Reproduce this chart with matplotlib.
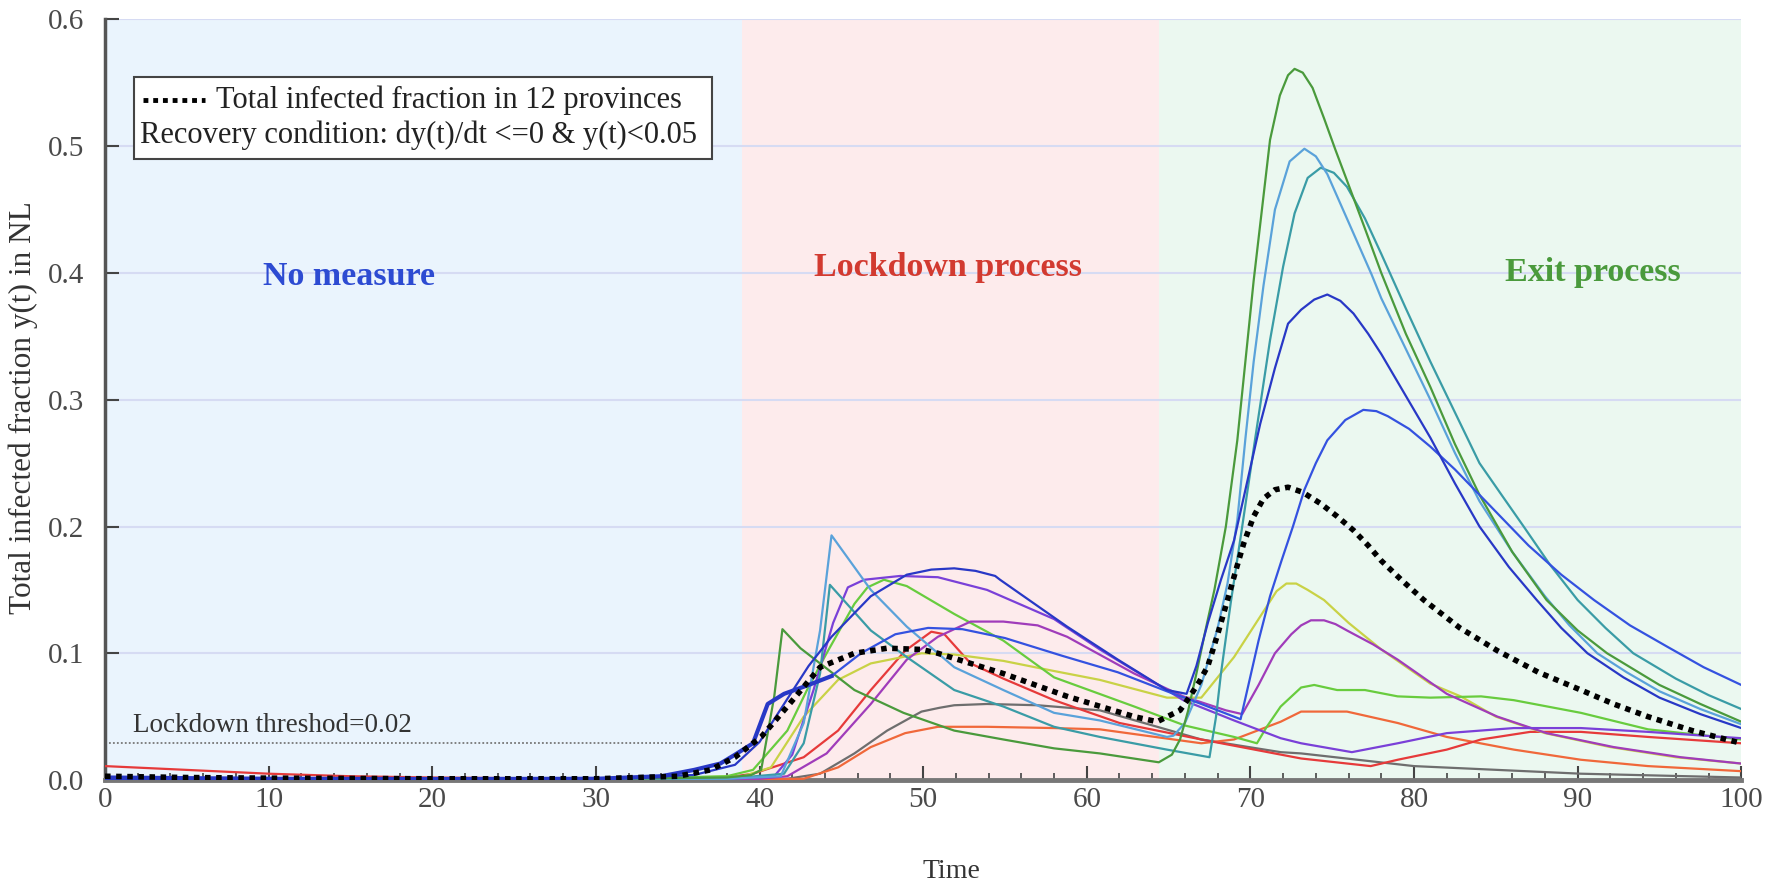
import matplotlib
matplotlib.use("Agg")
import matplotlib.pyplot as plt
from matplotlib.patches import Rectangle
from matplotlib.ticker import MultipleLocator, FormatStrFormatter

# values
phase_edges = [0, 38.9, 64.4, 100]
phase_names = ["No measure", "Lockdown process", "Exit process"]
threshold = 0.029

green_t = [0, 10, 20, 30, 38, 39.5, 40.1, 40.9, 41.4, 42.5, 43.7, 45.8, 48.8, 51.9, 54.9, 58, 60.8, 64.4, 65.2, 65.7, 66.2, 66.7, 67.2, 67.8, 68.5, 69.2, 70.2, 71.2, 71.8, 72.3, 72.7, 73.2, 73.8, 74.5, 75.2, 75.9, 77, 78, 79.5, 81, 82.5, 84, 86, 88.1, 90, 91.8, 95, 97.5, 100]
green_y = [0.002, 0.001, 0.0008, 0.0008, 0.002, 0.004, 0.008, 0.066, 0.119, 0.104, 0.092, 0.071, 0.053, 0.039, 0.032, 0.025, 0.021, 0.014, 0.02, 0.032, 0.055, 0.084, 0.115, 0.15, 0.2, 0.268, 0.394, 0.505, 0.54, 0.556, 0.561, 0.558, 0.546, 0.522, 0.497, 0.473, 0.435, 0.40, 0.352, 0.31, 0.265, 0.225, 0.18, 0.142, 0.118, 0.1, 0.075, 0.06, 0.046]

lblue_t = [0, 10, 20, 30, 38, 41.3, 42.7, 43.7, 44.4, 46.8, 49, 51.9, 54.9, 58, 60.8, 64.9, 65.3, 66, 67, 68, 68.6, 69.2, 69.7, 70.2, 70.8, 71.5, 72.4, 73.3, 74, 74.7, 76, 77.4, 78, 79.5, 81, 82.5, 84, 86, 88, 89.5, 91.2, 93, 95, 97.5, 100]
lblue_y = [0.001, 0.0008, 0.0006, 0.0006, 0.001, 0.003, 0.045, 0.118, 0.193, 0.15, 0.121, 0.089, 0.071, 0.053, 0.047, 0.034, 0.035, 0.045, 0.075, 0.12, 0.155, 0.205, 0.27, 0.33, 0.39, 0.45, 0.488, 0.498, 0.492, 0.478, 0.44, 0.399, 0.38, 0.34, 0.3, 0.258, 0.22, 0.18, 0.145, 0.122, 0.1, 0.085, 0.07, 0.056, 0.044]

teal_t = [0, 10, 20, 30, 38, 41.5, 42.7, 43.7, 44.3, 46.8, 49, 51.9, 54.9, 58, 60.8, 64.9, 67.5, 67.9, 68.2, 68.8, 69.5, 70.3, 71.2, 72, 72.7, 73.5, 74.3, 75.1, 75.9, 77, 78, 79.5, 81, 82.5, 84, 85.4, 86.7, 88.3, 90, 91.7, 93.4, 96, 98, 100]
teal_y = [0.001, 0.0008, 0.0006, 0.0006, 0.001, 0.005, 0.029, 0.084, 0.154, 0.118, 0.097, 0.071, 0.058, 0.042, 0.034, 0.024, 0.018, 0.05, 0.084, 0.14, 0.2, 0.27, 0.347, 0.405, 0.447, 0.475, 0.483, 0.479, 0.468, 0.443, 0.415, 0.372, 0.33, 0.29, 0.25, 0.224, 0.2, 0.17, 0.142, 0.12, 0.1, 0.08, 0.067, 0.056]

blue1_t = [0, 10, 20, 30, 36, 38.5, 40, 41.5, 43, 44.4, 46.8, 49, 50.5, 51.9, 53.2, 54.4, 54.7, 58.8, 61.9, 64.9, 66.1, 66.7, 67.4, 68.2, 69, 69.8, 70.6, 71.5, 72.3, 73.1, 73.9, 74.7, 75.5, 76.3, 77.2, 78, 79.5, 81, 82.5, 84, 85.8, 87.5, 89, 90.6, 92.8, 95, 97.5, 100]
blue1_y = [0.001, 0.0008, 0.0006, 0.0008, 0.004, 0.012, 0.03, 0.06, 0.09, 0.113, 0.145, 0.162, 0.166, 0.167, 0.165, 0.161, 0.158, 0.121, 0.095, 0.071, 0.068, 0.09, 0.124, 0.158, 0.189, 0.235, 0.281, 0.325, 0.36, 0.371, 0.379, 0.383, 0.378, 0.368, 0.352, 0.336, 0.303, 0.27, 0.234, 0.2, 0.168, 0.142, 0.12, 0.1, 0.081, 0.065, 0.052, 0.041]

blue2_t = [0, 10, 20, 30, 34, 36, 37.6, 38.5, 39.6, 40.5, 41.5, 43, 44.4, 46.2, 48.3, 50.3, 52.4, 55, 58.5, 61.9, 64.9, 67, 69.4, 70.5, 71.2, 71.9, 72.6, 73.3, 74, 74.7, 75.8, 76.9, 77.7, 78.4, 79.7, 81, 82.5, 84, 85.5, 87, 89, 91, 93.2, 95.5, 97.7, 100]
blue2_y = [0.002, 0.001, 0.0008, 0.001, 0.003, 0.008, 0.013, 0.02, 0.029, 0.06, 0.068, 0.075, 0.082, 0.1, 0.115, 0.12, 0.119, 0.112, 0.098, 0.085, 0.07, 0.06, 0.048, 0.11, 0.145, 0.173, 0.2, 0.229, 0.25, 0.268, 0.284, 0.292, 0.291, 0.287, 0.277, 0.263, 0.245, 0.225, 0.205, 0.185, 0.162, 0.142, 0.122, 0.105, 0.089, 0.075]

violet_t = [0, 10, 20, 30, 38, 40.9, 42, 43.3, 44.5, 45.4, 46.4, 48.6, 50.9, 53.9, 58, 60.8, 65.9, 69, 71.85, 73.1, 76.2, 79, 82, 86.1, 90.2, 94.3, 100]
violet_y = [0.001, 0.0008, 0.0006, 0.0006, 0.001, 0.003, 0.02, 0.071, 0.124, 0.152, 0.158, 0.161, 0.16, 0.15, 0.127, 0.103, 0.063, 0.047, 0.033, 0.029, 0.022, 0.029, 0.037, 0.041, 0.041, 0.038, 0.033]

magenta_t = [0, 10, 20, 30, 40, 41.7, 44.1, 46.8, 49, 50.9, 52.9, 54.9, 57, 58.8, 62.9, 65.9, 68.5, 69.5, 70.5, 71.5, 72.5, 73.1, 73.7, 74.5, 75.2, 75.9, 77.5, 79, 82, 85.1, 88.1, 92.2, 96.3, 100]
magenta_y = [0.001, 0.0008, 0.0006, 0.0006, 0.001, 0.003, 0.021, 0.06, 0.095, 0.113, 0.125, 0.125, 0.122, 0.113, 0.084, 0.066, 0.055, 0.052, 0.075, 0.1, 0.115, 0.122, 0.126, 0.126, 0.123, 0.118, 0.107, 0.095, 0.068, 0.05, 0.037, 0.026, 0.018, 0.013]

yellow_t = [0, 10, 20, 30, 39, 40.7, 42.7, 44.8, 46.8, 49.9, 51.9, 54.9, 58, 60.8, 64.9, 67, 69, 71, 71.6, 72.2, 72.8, 73.5, 74.5, 76, 78, 81, 82.85, 85, 88, 92, 96, 100]
yellow_y = [0.001, 0.0008, 0.0006, 0.0006, 0.003, 0.01, 0.05, 0.079, 0.092, 0.1, 0.099, 0.094, 0.086, 0.079, 0.065, 0.065, 0.097, 0.137, 0.149, 0.155, 0.155, 0.15, 0.142, 0.124, 0.103, 0.076, 0.066, 0.05, 0.037, 0.026, 0.018, 0.013]

lgreen_t = [0, 10, 20, 30, 38, 39.6, 41.7, 42.9, 44.1, 45.8, 46.6, 47.6, 49, 51.9, 54.9, 58, 62.9, 66, 69, 70.4, 71, 71.85, 73.1, 73.9, 75.3, 77, 79, 81, 84.1, 86.1, 90.2, 94.3, 100]
lgreen_y = [0.001, 0.0008, 0.0006, 0.0006, 0.003, 0.008, 0.039, 0.071, 0.1, 0.139, 0.152, 0.158, 0.153, 0.131, 0.11, 0.081, 0.058, 0.043, 0.034, 0.029, 0.042, 0.058, 0.073, 0.075, 0.071, 0.071, 0.066, 0.065, 0.066, 0.063, 0.053, 0.04, 0.032]

red_t = [0, 5, 10, 15, 20, 30, 38, 39.6, 42.7, 44.8, 46.8, 48.9, 50.5, 51.3, 52.9, 54.9, 58, 62, 67, 73.1, 77.35, 79, 82, 84.1, 87.1, 90.2, 94.3, 100]
red_y = [0.011, 0.008, 0.005, 0.003, 0.002, 0.001, 0.002, 0.005, 0.018, 0.039, 0.071, 0.102, 0.117, 0.115, 0.092, 0.08, 0.063, 0.045, 0.032, 0.017, 0.011, 0.016, 0.024, 0.032, 0.038, 0.038, 0.034, 0.029]

orange_t = [0, 10, 20, 30, 40, 42.7, 44.8, 46.8, 48.9, 50.9, 53.9, 58, 60.8, 67, 69, 71.85, 73.1, 73.9, 75.9, 79, 82, 86.1, 90.2, 94.3, 100]
orange_y = [0.001, 0.0008, 0.0006, 0.0006, 0.0005, 0.001, 0.01, 0.026, 0.037, 0.042, 0.042, 0.041, 0.04, 0.029, 0.032, 0.046, 0.054, 0.054, 0.054, 0.045, 0.034, 0.024, 0.016, 0.011, 0.007]

gray_t = [0, 10, 20, 30, 40, 41.7, 43.7, 45.8, 47.8, 49.9, 51, 51.9, 53.9, 57, 60.8, 67, 71.85, 73.1, 80, 90.2, 100]
gray_y = [0.0005, 0.0005, 0.0005, 0.0005, 0.0005, 0.001, 0.005, 0.021, 0.039, 0.054, 0.057, 0.059, 0.06, 0.059, 0.055, 0.032, 0.022, 0.021, 0.011, 0.005, 0.002]

total_t = [0, 5, 10, 20, 30, 35, 37, 38.5, 40.1, 41.7, 43.7, 45.8, 47.8, 49.9, 50.9, 52.9, 54.9, 58.8, 62.9, 64.3, 65.7, 66.3, 66.9, 67.4, 68, 68.6, 69.1, 69.6, 70.2, 70.8, 71.5, 72.3, 73.2, 74.3, 75.3, 76.3, 77.2, 78, 79.3, 80.6, 82.8, 85.1, 87.6, 90.2, 92.2, 94.3, 97, 100]
total_y = [0.003, 0.002, 0.0015, 0.001, 0.001, 0.003, 0.008, 0.018, 0.034, 0.058, 0.089, 0.1, 0.104, 0.103, 0.1, 0.092, 0.084, 0.066, 0.05, 0.046, 0.055, 0.066, 0.078, 0.09, 0.115, 0.142, 0.165, 0.187, 0.208, 0.222, 0.229, 0.231, 0.227, 0.218, 0.208, 0.197, 0.185, 0.173, 0.157, 0.142, 0.12, 0.102, 0.085, 0.071, 0.06, 0.05, 0.039, 0.029]

provinces = [
    (gray_t, gray_y, "#6e6e6e"),
    (orange_t, orange_y, "#f0683a"),
    (red_t, red_y, "#e63a3a"),
    (yellow_t, yellow_y, "#c9d246"),
    (lgreen_t, lgreen_y, "#68cc3e"),
    (magenta_t, magenta_y, "#a03cba"),
    (violet_t, violet_y, "#7a40d8"),
    (teal_t, teal_y, "#3a9ca6"),
    (lblue_t, lblue_y, "#5aa2da"),
    (green_t, green_y, "#4a9a3c"),
    (blue2_t, blue2_y, "#3452e0"),
    (blue1_t, blue1_y, "#2838c6"),
]

plt.rcParams['font.family'] = ['Liberation Serif', 'DejaVu Serif']

fig = plt.figure(figsize=(17.83, 8.83), dpi=100)
ax = fig.add_axes([0.0589, 0.1166, 0.9177, 0.8614])

# background phases
phase_colors = ["#eaf4fd", "#fdebec", "#ebf8f0"]
for i in range(3):
    ax.axvspan(phase_edges[i], phase_edges[i+1], color=phase_colors[i], lw=0, zorder=0)

for yv in [0.1, 0.2, 0.3, 0.4, 0.5, 0.6]:
    ax.axhline(yv, color="#d6dbf3", lw=1.5, zorder=1)

# lockdown threshold
ax.plot([0, phase_edges[1]], [threshold, threshold], color="#777777", lw=1.3,
        linestyle=(0, (1, 1.2)), zorder=2)
ax.text(1.7, 0.043, "Lockdown threshod=0.02", fontsize=19.5, color="#333333",
        va="center", zorder=3)

for t, y, c in provinces:
    ax.plot(t, y, color=c, lw=1.6, zorder=3)
# thicker blue start
ax.plot(blue2_t[:13], blue2_y[:13], color="#2838c6", lw=3, zorder=3)

ax.plot(total_t, total_y, color="black", lw=4, linestyle=(0, (1, 1)), zorder=4)

# phase labels
ax.text(14.9, 0.397, phase_names[0], color="#2d4bd2", fontsize=24.5, fontweight="bold", ha="center", va="center")
ax.text(51.5, 0.404, phase_names[1], color="#d23a30", fontsize=24.5, fontweight="bold", ha="center", va="center")
ax.text(90.9, 0.40, phase_names[2], color="#4a9a3c", fontsize=24.5, fontweight="bold", ha="center", va="center")

# legend-like box
box = Rectangle((0.018, 0.816), 0.353, 0.108, transform=ax.transAxes, facecolor="white",
                edgecolor="#444444", lw=1.5, zorder=5)
ax.add_patch(box)
ax.plot([0.0235, 0.0614], [0.894, 0.894], transform=ax.transAxes, color="black", lw=3.5,
        linestyle=(0, (1, 1)), zorder=6)
ax.text(0.068, 0.894, "Total infected fraction in 12 provinces", transform=ax.transAxes,
        fontsize=22, va="center", color="#222222", zorder=6)
ax.text(0.0216, 0.848, "Recovery condition: dy(t)/dt <=0 & y(t)<0.05", transform=ax.transAxes,
        fontsize=22, va="center", color="#222222", zorder=6)

ax.set_xlim(0, 100)
ax.set_ylim(0, 0.6)
ax.xaxis.set_major_locator(MultipleLocator(10))
ax.xaxis.set_minor_locator(MultipleLocator(2))
ax.yaxis.set_major_locator(MultipleLocator(0.1))
ax.yaxis.set_major_formatter(FormatStrFormatter("%.1f"))

ax.tick_params(axis="both", which="major", direction="in", length=10, width=1.5,
               labelsize=21, colors="#444444", labelcolor="#4a4a4a")
ax.tick_params(axis="x", which="minor", direction="in", length=5, width=1.2, colors="#444444")
ax.tick_params(axis="x", which="major", pad=5)
ax.tick_params(axis="y", which="major", pad=15)

for s in ["top", "right"]:
    ax.spines[s].set_visible(False)
ax.spines["left"].set_color("#555555")
ax.spines["left"].set_linewidth(2.5)
ax.spines["bottom"].set_color("#777777")
ax.spines["bottom"].set_linewidth(3.5)

ax.set_xlabel("Time", fontsize=20, color="#333333")
ax.xaxis.set_label_coords(0.517, -0.104)
ax.set_ylabel("Total infected fraction y(t) in NL", fontsize=22.5, color="#333333")
ax.yaxis.set_label_coords(-0.041, 0.49)

fig.savefig("out.png", dpi=100)
